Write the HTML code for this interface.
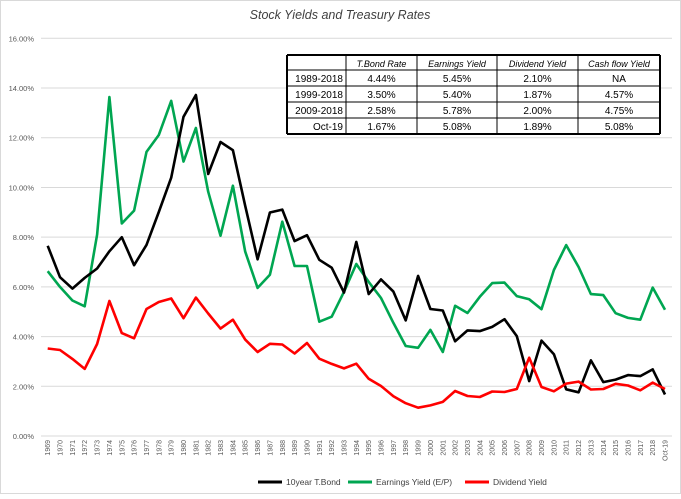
<!DOCTYPE html>
<html><head><meta charset="utf-8"><style>
body{margin:0;background:#fff;font-family:"Liberation Sans",sans-serif}
svg text{font-family:"Liberation Sans",sans-serif}
</style></head><body>
<svg id="c" width="681" height="494" xmlns="http://www.w3.org/2000/svg">
<rect x="0.5" y="0.5" width="680" height="493" fill="#fff" stroke="#d9d9d9"/>
<text x="340" y="19" text-anchor="middle" font-size="12.5" font-style="italic" fill="#404040">Stock Yields and Treasury Rates</text>
<g id="grid"></g><g id="xl"></g><g id="lines"></g>
<g id="tbl"></g>
<g>
<line x1="258" y1="482" x2="282" y2="482" stroke="#000" stroke-width="3"/>
<text x="286" y="485" font-size="8.5" fill="#404040">10year T.Bond</text>
<line x1="348" y1="482" x2="372" y2="482" stroke="#00a651" stroke-width="3"/>
<text x="376" y="485" font-size="8.5" fill="#404040">Earnings Yield (E/P)</text>
<line x1="465" y1="482" x2="489" y2="482" stroke="#ff0000" stroke-width="3"/>
<text x="493" y="485" font-size="8.5" fill="#404040">Dividend Yield</text>
</g>
</svg>
<script>
const categories=[];for(let y=1969;y<=2018;y++)categories.push(String(y));categories.push("Oct-19");
const yTicks=[0,2,4,6,8,10,12,14,16];
const tbond=[7.65,6.39,5.93,6.36,6.74,7.43,8.00,6.87,7.69,9.01,10.39,12.84,13.72,10.54,11.83,11.50,9.26,7.11,8.99,9.11,7.84,8.08,7.09,6.77,5.77,7.81,5.71,6.30,5.81,4.65,6.44,5.11,5.05,3.81,4.25,4.22,4.39,4.70,4.02,2.21,3.84,3.29,1.88,1.76,3.04,2.17,2.27,2.45,2.41,2.68,1.67];
const earnings=[6.63,6.00,5.45,5.22,8.10,13.64,8.55,9.07,11.43,12.11,13.48,11.04,12.39,9.83,8.06,10.07,7.42,5.96,6.49,8.62,6.84,6.84,4.60,4.80,5.80,6.92,6.20,5.55,4.55,3.62,3.55,4.27,3.38,5.24,4.95,5.60,6.15,6.17,5.63,5.50,5.10,6.68,7.68,6.80,5.71,5.67,4.94,4.75,4.68,5.97,5.08];
const dividend=[3.52,3.46,3.10,2.70,3.70,5.43,4.14,3.93,5.11,5.39,5.53,4.74,5.57,4.93,4.32,4.68,3.88,3.38,3.71,3.68,3.32,3.74,3.11,2.90,2.72,2.91,2.30,2.01,1.60,1.32,1.14,1.23,1.37,1.81,1.61,1.57,1.79,1.77,1.89,3.15,1.97,1.80,2.11,2.19,1.87,1.89,2.10,2.03,1.84,2.15,1.89];
const tblHead=["","T.Bond Rate","Earnings Yield","Dividend Yield","Cash flow Yield"];
const tblRows=[["1989-2018","4.44%","5.45%","2.10%","NA"],["1999-2018","3.50%","5.40%","1.87%","4.57%"],["2009-2018","2.58%","5.78%","2.00%","4.75%"],["Oct-19","1.67%","5.08%","1.89%","5.08%"]];
const NS="http://www.w3.org/2000/svg";
const X0=47.7,X1=665,Y0=436,Y1=38.3;
const xs=i=>X0+(X1-X0)*i/(categories.length-1);
const ys=v=>Y0-(Y0-Y1)*v/16;
function mk(t,a,p){const e=document.createElementNS(NS,t);for(const k in a)e.setAttribute(k,a[k]);p.appendChild(e);return e;}
const g=document.getElementById('grid');
yTicks.forEach(v=>{const l=mk('line',{x1:41,x2:672,y1:ys(v),y2:ys(v),stroke:'#d9d9d9','stroke-width':1},g);


const t=mk('text',{x:34,y:ys(v)+3,'text-anchor':'end','font-size':'7.5',fill:'#595959'},g);t.textContent=v.toFixed(2)+'%';

});
const xl=document.getElementById('xl');
categories.forEach((c,i)=>{const x=xs(i);const t=mk('text',{x:0,y:0,transform:`translate(${x+2.5},${440}) rotate(-90)`,'text-anchor':'end','font-size':'7',fill:'#595959'},xl);t.textContent=c;

});
const L=document.getElementById('lines');
[[earnings,'#00a651','earnings-line'],[tbond,'#000','tbond-line'],[dividend,'#ff0000','dividend-line']].forEach(([d,c,n])=>{
const p=mk('polyline',{points:d.map((v,i)=>xs(i).toFixed(1)+','+ys(v).toFixed(1)).join(' '),fill:'none',stroke:c,'stroke-width':2.6,'stroke-linejoin':'round'},L);

});
const T=document.getElementById('tbl');
const cx=[287,346,417,497,578,660],ry=[55,70,86,102,118,134];
mk('rect',{x:cx[0],y:ry[0],width:cx[5]-cx[0],height:ry[5]-ry[0],fill:'#fff'},T);
for(let r=0;r<5;r++)for(let c=0;c<5;c++){
const txt=r==0?tblHead[c]:tblRows[r-1][c];
const anchor=(c==0&&r>0)?'end':'middle';const tx=(c==0&&r>0)?cx[1]-3:(cx[c]+cx[c+1])/2;
const t=mk('text',{x:tx,y:ry[r]+12,'text-anchor':anchor,'font-size':r==0?'9':'10','font-style':r==0?'italic':'normal',fill:'#000'},T);t.textContent=txt;

}
cx.forEach((x,i)=>mk('line',{x1:x,x2:x,y1:ry[0],y2:ry[5],stroke:'#000','stroke-width':(i==0||i==5)?2:1},T));
ry.forEach((y,i)=>mk('line',{x1:cx[0],x2:cx[5],y1:y,y2:y,stroke:'#000','stroke-width':(i==0||i==5)?2:1},T));
</script>
</body></html>
